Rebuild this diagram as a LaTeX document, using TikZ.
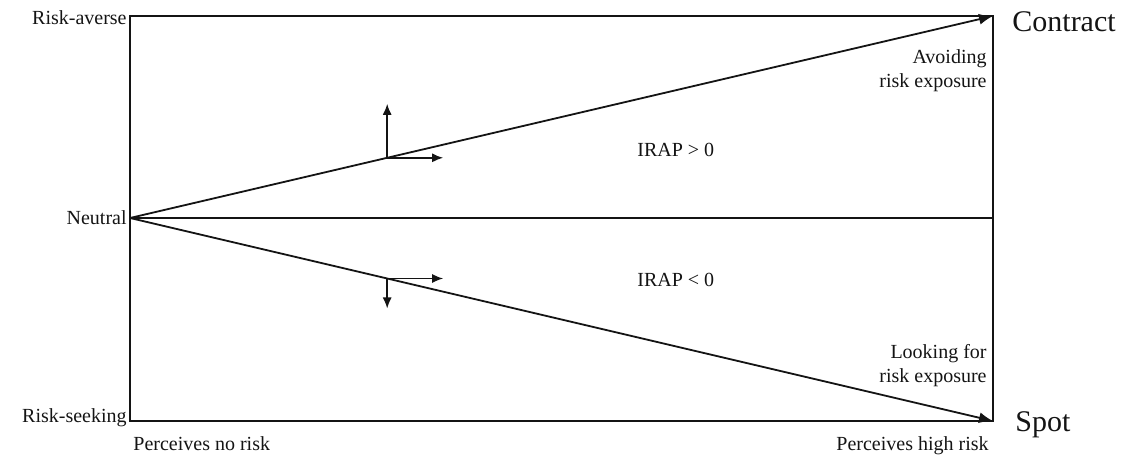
\documentclass[tikz,border=0pt]{standalone}
\usepackage{fontspec}
\setmainfont{Liberation Serif}
\usetikzlibrary{arrows.meta,positioning,calc}
\definecolor{inkBlack}{RGB}{20, 20, 20}

\tikzset{
    axisLabel/.style={font=\fontsize{10pt}{12pt}\selectfont, text=inkBlack, inner sep=0pt},
    sideLabel/.style={font=\fontsize{15pt}{18pt}\selectfont, text=inkBlack, inner sep=0pt},
    frameLine/.style={draw=inkBlack, line width=1pt},
    mainArrow/.style={draw=inkBlack, line width=0.9pt, -{Latex[length=7pt,width=5.5pt]}},
    shiftArrow/.style={draw=inkBlack, line width=0.75pt, -{Latex[length=5.5pt,width=4.5pt]}}
}

\begin{document}
\begin{tikzpicture}[x=0.5pt, y=-0.5pt]
                \useasboundingbox (0,0) rectangle (1126,458);
                % corners of the frame
                \coordinate (averse) at (130,16);
                \coordinate (neutral) at (130,218);
                \coordinate (seeking) at (130,421);
                \coordinate (contract) at (993,16);
                \coordinate (midRight) at (993,218);
                \coordinate (spot) at (993,421);

                \draw[frameLine] (averse) rectangle (spot);
                \draw[frameLine] (neutral) -- (midRight);
                \draw[mainArrow] (neutral) -- (contract);
                \draw[mainArrow] (neutral) -- (spot);

                % shift of the two boundaries
                \coordinate (upPivot) at ($(neutral)!0.298!(contract)$);
                \coordinate (downPivot) at ($(neutral)!0.298!(spot)$);
                \coordinate (upTop) at ($(upPivot)+(0,-54)$);
                \coordinate (upRight) at ($(upPivot)+(56,0)$);
                \coordinate (downRight) at ($(downPivot)+(56,0)$);
                \coordinate (downBottom) at ($(downPivot)+(0,30)$);
                \draw[shiftArrow] (upPivot) -- (upTop);
                \draw[shiftArrow] (upPivot) -- (upRight);
                \draw[shiftArrow] (downPivot) -- (downRight);
                \draw[shiftArrow] (downPivot) -- (downBottom);

                % labels
                \node[axisLabel, anchor=east] (averseText) at ($(averse)+(-3,2)$) {Risk-averse};
                \node[axisLabel, anchor=east] (neutralText) at ($(neutral)+(-3,0)$) {Neutral};
                \node[axisLabel, anchor=east] (seekingText) at ($(seeking)+(-3,-3)$) {Risk-seeking};
                \node[axisLabel, anchor=base west] (noRisk) at (133,451) {Perceives no risk};
                \node[axisLabel, anchor=base east] (highRisk) at (989,451) {Perceives high risk};
                \node[axisLabel, anchor=base west] (irapPos) at (637,157) {IRAP > 0};
                \node[axisLabel, anchor=base west] (irapNeg) at (637,287) {IRAP < 0};
                \node[axisLabel, anchor=base east, align=right] (avoidText) at (987,88) {Avoiding\\risk exposure};
                \node[axisLabel, anchor=base east, align=right] (lookText) at (987,383) {Looking for\\risk exposure};
                \node[sideLabel, anchor=base west] (contractText) at (1012,32) {Contract};
                \node[sideLabel, anchor=base west] (spotText) at (1015,432) {Spot};
            \end{tikzpicture}
\end{document}
